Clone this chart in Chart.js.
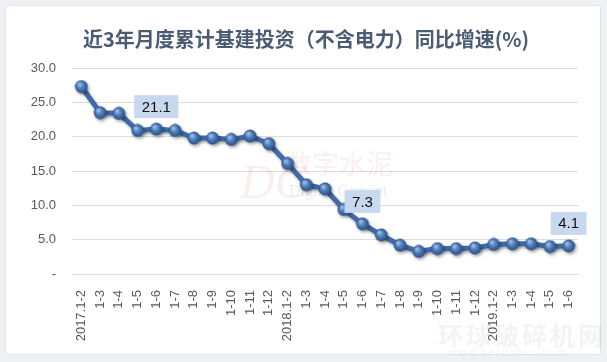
<!DOCTYPE html>
<html>
<head>
<meta charset="utf-8">
<script src="https://cdn.jsdelivr.net/npm/chart.js@4.4.1/dist/chart.umd.min.js"></script>
<style>
body{margin:0;background:#eef0f3;width:607px;height:362px;overflow:hidden;position:relative;}
#card{position:absolute;left:5px;top:5px;width:594px;height:348px;background:#fff;border:1px solid #dfe3e8;border-radius:3px;}
#wrap{position:absolute;left:0;top:0;width:594px;height:348px;}
.wm{position:absolute;color:rgba(150,150,150,0.11);font-family:'Noto Sans CJK SC';white-space:nowrap;}
</style>
</head>
<body>
<div id="card"><div id="wrap"><canvas id="myChart"></canvas></div></div>
<div class="wm" style="left:438px;top:316px;font-size:25px;letter-spacing:3px;font-weight:bold;">环球破碎机网</div>
<div class="wm" style="left:448px;top:344px;font-size:10px;letter-spacing:2px;">www.Yerusher.com</div>
<script>
'use strict'
let cats=['2017.1-2','1-3','1-4','1-5','1-6','1-7','1-8','1-9','1-10','1-11','1-12',
'2018.1-2','1-3','1-4','1-5','1-6','1-7','1-8','1-9','1-10','1-11','1-12',
'2019.1-2','1-3','1-4','1-5','1-6'];
let growth=[27.3,23.5,23.4,20.9,21.1,20.9,19.8,19.8,19.6,20.1,19.0,
16.1,13.0,12.4,9.4,7.3,5.7,4.2,3.3,3.7,3.7,3.8,
4.3,4.4,4.4,4.0,4.1];
let yTicks=[0,5,10,15,20,25,30];
let labelIdx=[4,15,26];
let titleText='近3年月度累计基建投资（不含电力）同比增速(%)';

// little 3d ball for the points
function makeBall(){
  let c=document.createElement('canvas');
  c.width=14;c.height=14;
  let g=c.getContext('2d');
  let grad=g.createRadialGradient(5,4.5,0.5,7,7,7);
  grad.addColorStop(0,'#a3c0e6');
  grad.addColorStop(0.45,'#4e7dba');
  grad.addColorStop(1,'#234a7e');
  g.fillStyle=grad;
  g.beginPath();g.arc(7,7,6.4,0,Math.PI*2);g.fill();
  return c;
}

let decor={
  id:'decor',
  beforeDatasetsDraw(chart){
    let ctx=chart.ctx;
    // watermark
    ctx.save();
    ctx.fillStyle='rgba(215,120,120,0.12)';
    ctx.font='italic 48px "Liberation Serif"';
    ctx.fillText('DC',234,192);
    ctx.font='27px "Noto Sans CJK SC"';
    ctx.fillText('数字水泥',279,168);
    ctx.fillStyle='rgba(120,120,120,0.14)';
    ctx.font='16px "Liberation Serif"';
    ctx.fillText('Digital Cement',283,190);
    ctx.restore();
    ctx.save();
    ctx.shadowColor='rgba(0,0,0,0.35)';
    ctx.shadowBlur=3;
    ctx.shadowOffsetX=1.5;
    ctx.shadowOffsetY=2;
  },
  afterDatasetsDraw(chart){
    let ctx=chart.ctx;
    ctx.restore();
    let meta=chart.getDatasetMeta(0);
    ctx.save();
    ctx.font='15px "Liberation Sans"';
    ctx.textAlign='center';
    ctx.textBaseline='middle';
    for(let i=0;i<labelIdx.length;i++){
      let p=meta.data[labelIdx[i]];
      let txt=growth[labelIdx[i]].toFixed(1);
      let w=ctx.measureText(txt).width+15;
      let h=23;
      let bottom=p.y-11;
      ctx.fillStyle='#c8d8ee';
      ctx.fillRect(p.x-w/2,bottom-h,w,h);
      ctx.fillStyle='#111';
      ctx.fillText(txt,p.x,bottom-h/2+1);
    }
    ctx.restore();
  },
  afterDraw(chart){
    // title, a bit right of the plot centre like the original
    let ctx=chart.ctx;
    ctx.save();
    ctx.font='bold 20px "Noto Sans CJK SC"';
    ctx.fillStyle='#4a5b73';
    ctx.textAlign='center';
    ctx.textBaseline='middle';
    ctx.fillText(titleText,300,33);
    ctx.restore();
  }
};

let ctx=document.getElementById('myChart').getContext('2d');
let myChart=new Chart(ctx,{
  type:'line',
  data:{
    labels:cats,
    datasets:[{
      data:growth,
      borderColor:'#3f6ca8',
      borderWidth:5,
      tension:0,
      pointStyle:makeBall(),
      pointRadius:6,
      clip:false
    }]
  },
  options:{
    responsive:true,
    maintainAspectRatio:false,
    animation:false,
    layout:{padding:{left:0,right:22,top:62,bottom:0}},
    plugins:{
      legend:{display:false},
      tooltip:{enabled:false},
      title:{display:false}
    },
    scales:{
      x:{
        offset:true,
        grid:{display:false},
        border:{display:true,color:'#d3deeb',width:1},
        ticks:{minRotation:90,maxRotation:90,autoSkip:false,padding:8,color:'#595959',
          font:{family:'Liberation Sans',size:13}},
        afterFit(s){s.height=80;}
      },
      y:{
        min:0,max:30,
        afterBuildTicks(s){s.ticks=yTicks.map(v=>({value:v}));},
        grid:{color:'#dcdcdc',drawTicks:false},
        border:{display:false},
        ticks:{padding:16,color:'#595959',font:{family:'Liberation Sans',size:13},
          callback:v=>v===0?'-':v.toFixed(1)},
        afterFit(s){s.width=66;}
      }
    }
  },
  plugins:[decor]
});
</script>
</body>
</html>
